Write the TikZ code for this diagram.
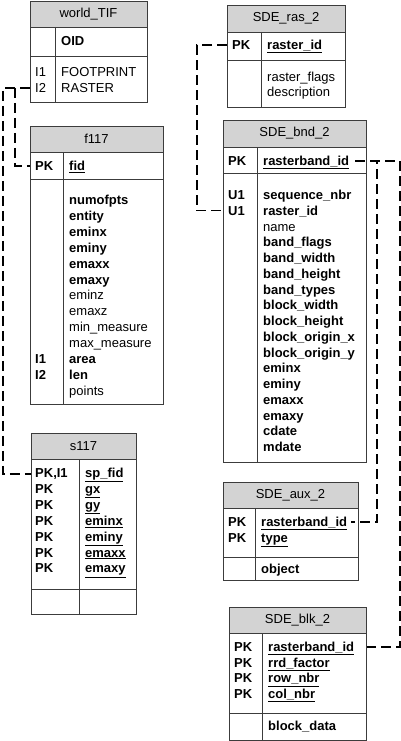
\documentclass[tikz,border=0pt]{standalone}
\usepackage{fontspec}
\setmainfont{Liberation Sans}
\definecolor{hdrgray}{RGB}{211,211,211}
\definecolor{framec}{RGB}{60,60,60}
\tikzset{
  hdr/.style={draw=framec, line width=1pt, fill=hdrgray, inner sep=0pt, anchor=north west, font=\fontsize{13}{15}\selectfont},
  sec/.style={draw=framec, line width=1pt, fill=white, inner sep=0pt, anchor=north west},
  divline/.style={draw=framec, line width=1pt},
  rowtxt/.style={anchor=base west, inner sep=0pt, font=\fontsize{13}{15}\selectfont},
  rowbold/.style={rowtxt, font=\fontsize{13}{15}\selectfont\bfseries},
  conn/.style={draw=black, line width=1.2pt, dash pattern=on 10pt off 5pt},
}
% name, title, L, D, R, T, H, S, B
\newcommand{\mktable}[9]{%
  \node[hdr, minimum width={(#5-#3)*1pt}, minimum height={(#7-#6)*1pt}] (#1-h) at (#3,#6) {};
  \node[font=\fontsize{13}{15}\selectfont, inner sep=0pt] (#1-t) at ({(#3+#5)/2},{(#6+#7)/2}) {#2};
  \node[sec, minimum width={(#5-#3)*1pt}, minimum height={(#8-#7)*1pt}] (#1-a) at (#3,#7) {};
  \node[sec, minimum width={(#5-#3)*1pt}, minimum height={(#9-#8)*1pt}] (#1-b) at (#3,#8) {};
  \draw[divline] (#4,#7) -- (#4,#9);
}
\begin{document}
\begin{tikzpicture}[x=1pt,y=-1pt]
\useasboundingbox (0,0) rectangle (400,741);

% world_TIF
\mktable{wt}{world\_TIF}{30}{55}{147}{1}{27}{56}{102}
\node[rowbold] (wt-f0) at (61,45.5) {OID};
\node[rowtxt] (wt-k1) at (35,76.5) {I1};
\node[rowtxt] (wt-f1) at (61,76.5) {FOOTPRINT};
\node[rowtxt] (wt-k2) at (35,92.5) {I2};
\node[rowtxt] (wt-f2) at (61,92.5) {RASTER};

% f117
\mktable{f}{f117}{30}{63}{163}{126}{152}{179}{404}
\node[rowbold] (f-k1) at (35,170.5) {PK};
\node[rowbold] (f-f1) at (69,170.5) {\underline{fid}};
\foreach \t/\b [count=\i from 0] in {numofpts/1,entity/1,eminx/1,eminy/1,emaxx/1,emaxy/1,eminz/0,emaxz/0,min\_measure/0,max\_measure/0,area/1,len/1,points/0}{
  \ifnum\b=1
    \node[rowbold] (f-r\i) at (69,{204.5+\i*15.9}) {\t};
  \else
    \node[rowtxt] (f-r\i) at (69,{204.5+\i*15.9}) {\t};
  \fi
}
\node[rowbold] (f-kI1) at (35,{204.5+10*15.9}) {I1};
\node[rowbold] (f-kI2) at (35,{204.5+11*15.9}) {I2};

% s117
\mktable{s}{s117}{31}{79}{136}{433}{459}{589}{614}
\foreach \k/\t [count=\i from 1] in {{PK,I1}/sp\_fid,PK/gx,PK/gy,PK/eminx,PK/eminy,PK/emaxx,PK/emaxy}{
  \node[rowbold] (s-k\i) at (35,{477.5+(\i-1)*15.9}) {\k};
  \node[rowbold] (s-f\i) at (85,{477.5+(\i-1)*15.9}) {\underline{\t}};
}

% SDE_ras_2
\mktable{r}{SDE\_ras\_2}{227}{261}{345}{5}{32}{60}{107}
\node[rowbold] (r-k1) at (232,49.5) {PK};
\node[rowbold] (r-f1) at (267,49.5) {\underline{raster\_id}};
\node[rowtxt] (r-f2) at (267,81.5) {raster\_flags};
\node[rowtxt] (r-f3) at (267,96.5) {description};

% SDE_bnd_2
\mktable{b}{SDE\_bnd\_2}{223}{257}{366}{120}{147}{173}{462}
\node[rowbold] (b-k0) at (228,165.5) {PK};
\node[rowbold] (b-f0) at (263,165.5) {\underline{rasterband\_id}};
\node[rowbold] (b-k1) at (228,199.5) {U1};
\node[rowbold] (b-k2) at (228,{199.5+15.75}) {U1};
\foreach \t/\b [count=\i from 0] in {sequence\_nbr/1,raster\_id/1,name/0,band\_flags/1,band\_width/1,band\_height/1,band\_types/1,block\_width/1,block\_height/1,block\_origin\_x/1,block\_origin\_y/1,eminx/1,eminy/1,emaxx/1,emaxy/1,cdate/1,mdate/1}{
  \ifnum\b=1
    \node[rowbold] (b-r\i) at (263,{199.5+\i*15.75}) {\t};
  \else
    \node[rowtxt] (b-r\i) at (263,{199.5+\i*15.75}) {\t};
  \fi
}

% SDE_aux_2
\mktable{x}{SDE\_aux\_2}{223}{255}{358}{482}{508}{557}{580}
\node[rowbold] (x-k1) at (228,526.5) {PK};
\node[rowbold] (x-f1) at (261,526.5) {\underline{rasterband\_id}};
\node[rowbold] (x-k2) at (228,542.5) {PK};
\node[rowbold] (x-f2) at (261,542.5) {\underline{type}};
\node[rowbold] (x-f3) at (261,573.5) {object};

% SDE_blk_2
\mktable{k}{SDE\_blk\_2}{229}{262}{366}{607}{633}{713}{740}
\foreach \t [count=\i from 1] in {rasterband\_id,rrd\_factor,row\_nbr,col\_nbr}{
  \node[rowbold] (k-k\i) at (234,{651.5+(\i-1)*15.7}) {PK};
  \node[rowbold] (k-f\i) at (268,{651.5+(\i-1)*15.7}) {\underline{\t}};
}
\node[rowbold] (k-f5) at (268,730.5) {block\_data};

% connectors
\draw[conn] (wt-b.west |- wt-k2.center) -- ++(-15,0) |- (f-a.west |- f-k1.center);
\draw[conn] (wt-b.west |- wt-k2.center) -- ++(-27,0) |- (s-a.west |- s-k1.center);
\draw[conn] (r-a.west |- r-k1.center) -- ++(-30,0) |- (b-b.west |- b-k2.center);
\draw[conn] ([xshift=6pt]b-f0.east |- b-k0.center) -- ([xshift=10pt]b-h.east |- b-k0.center) |- ([xshift=4pt]x-f1.east |- x-k1.center);
\draw[conn] ([xshift=6pt]b-f0.east |- b-k0.center) -- ([xshift=33pt]b-h.east |- b-k0.center) |- (k-a.east |- k-k1.center);
\end{tikzpicture}
\end{document}
